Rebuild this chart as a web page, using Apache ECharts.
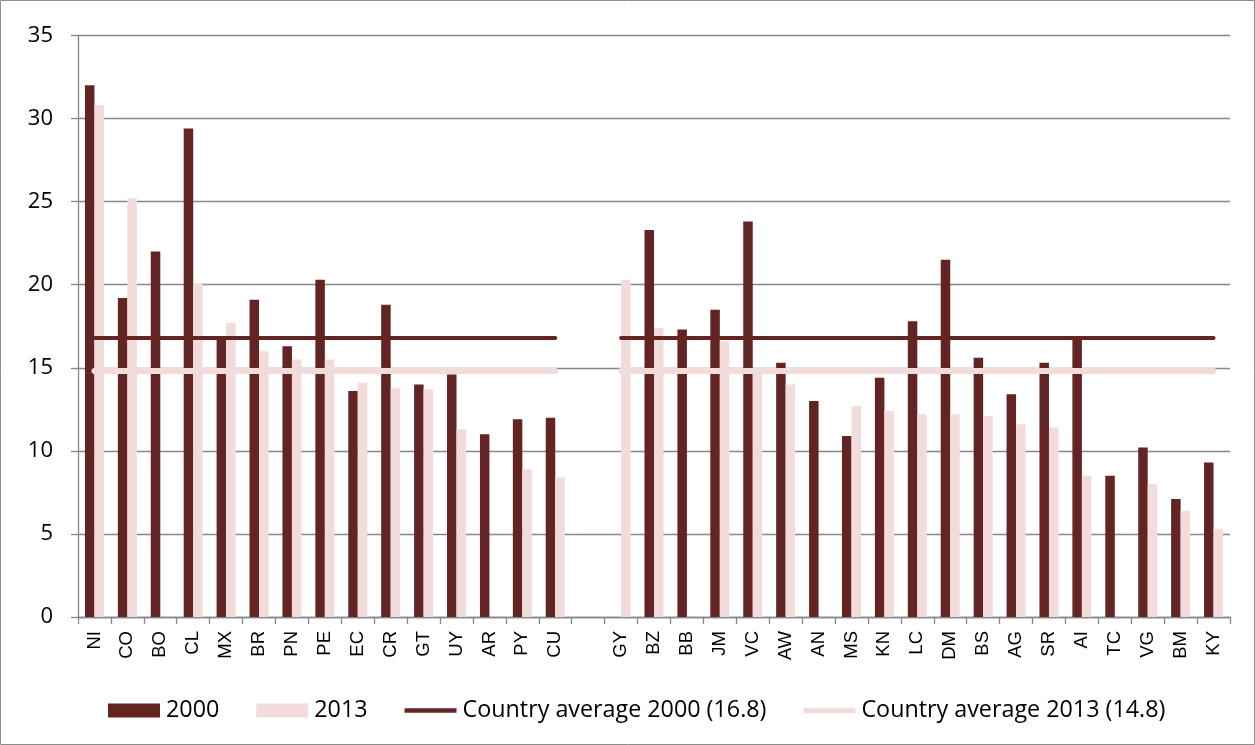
<!DOCTYPE html>
<html>
<head>
<meta charset="utf-8">
<script src="https://cdn.jsdelivr.net/npm/echarts@6/dist/echarts.min.js"></script>
<style>
html,body{margin:0;padding:0;background:#fff;}
#chart{width:1255px;height:745px;}
</style>
</head>
<body>
<div id="chart"></div>
<script>
const categories = ['NI','CO','BO','CL','MX','BR','PN','PE','EC','CR','GT','UY','AR','PY','CU','',
  'GY','BZ','BB','JM','VC','AW','AN','MS','KN','LC','DM','BS','AG','SR','AI','TC','VG','BM','KY'];
const values2000 = [32.0,19.2,22.0,29.4,16.9,19.1,16.3,20.3,13.6,18.8,14.0,14.6,11.0,11.9,12.0,null,
  null,23.3,17.3,18.5,23.8,15.3,13.0,10.9,14.4,17.8,21.5,15.6,13.4,15.3,16.7,8.5,10.2,7.1,9.3];
const values2013 = [30.8,25.2,null,20.1,17.7,16.0,15.5,15.5,14.1,13.8,13.7,11.3,null,8.9,8.4,null,
  20.3,17.4,null,16.6,14.9,14.0,null,12.7,12.4,12.2,12.2,12.1,11.6,11.4,8.5,null,8.0,6.4,5.3];
const avg2000 = 16.8;
const avg2013 = 14.8;
const gapIndex = 15;
const yTicks = {min:0, max:35, interval:5};

const avgLine = v => categories.map((c,i) => i === gapIndex ? null : v);

const DARK = '#632523', LIGHT = '#F2DCDB';
const chart = echarts.init(document.getElementById('chart'), null, {renderer:'canvas'});
chart.setOption({
  animation:false,
  backgroundColor:'#fff',
  graphic:[{type:'rect', shape:{x:0.5,y:0.5,width:1254,height:744}, style:{fill:'none', stroke:'#8c8c8c', lineWidth:1}, silent:true, z:-1}],
  grid:{left:78, right:25, top:35.5, bottom:128},
  legend:{
    left:108, top:699, padding:0, itemWidth:52, itemHeight:14, itemGap:37, symbolKeepAspect:true,
    textStyle:{fontFamily:'Open Sans', fontSize:23.3, color:'#000', padding:[0,0,0,1]},
    data:[
      {name:'2000', icon:'rect'},
      {name:'2013', icon:'rect'},
      {name:'Country average 2000 (16.8)', icon:'path://M0,0H52V4.5H0Z', itemStyle:{color:DARK}},
      {name:'Country average 2013 (14.8)', icon:'path://M0,0H52V5.5H0Z', itemStyle:{color:LIGHT}}
    ]
  },
  xAxis:{
    type:'category', data:categories, boundaryGap:true,
    axisLine:{lineStyle:{color:'#878787', width:1.3}},
    axisTick:{show:true, length:7, alignWithLabel:false, interval:0, lineStyle:{color:'#878787', width:1.3}},
    axisLabel:{rotate:90, interval:0, margin:14, fontFamily:'Liberation Sans', fontSize:18.5, color:'#000'},
    splitLine:{show:false}
  },
  yAxis:{
    type:'value', min:yTicks.min, max:yTicks.max, interval:yTicks.interval,
    axisLine:{show:true, lineStyle:{color:'#878787', width:1.3}},
    axisTick:{show:true, length:7, inside:false, lineStyle:{color:'#878787', width:1.3}},
    axisLabel:{margin:25, fontFamily:'Open Sans', fontSize:22, color:'#000'},
    splitLine:{show:true, lineStyle:{color:'#878787', width:1.3}}
  },
  series:[
    {name:'2000', type:'bar', data:values2000, barWidth:9.5, barGap:'0%', itemStyle:{color:DARK}},
    {name:'2013', type:'bar', data:values2013, barWidth:9.5, barGap:'0%', itemStyle:{color:LIGHT}},
    {name:'Country average 2000 (16.8)', type:'line', data:avgLine(avg2000), symbol:'none', connectNulls:false,
      lineStyle:{color:DARK, width:4, cap:'round'}, itemStyle:{color:DARK}, z:3},
    {name:'Country average 2013 (14.8)', type:'line', data:avgLine(avg2013), symbol:'none', connectNulls:false,
      lineStyle:{color:LIGHT, width:6, cap:'round'}, itemStyle:{color:LIGHT}, z:3}
  ]
});
</script>
</body>
</html>
